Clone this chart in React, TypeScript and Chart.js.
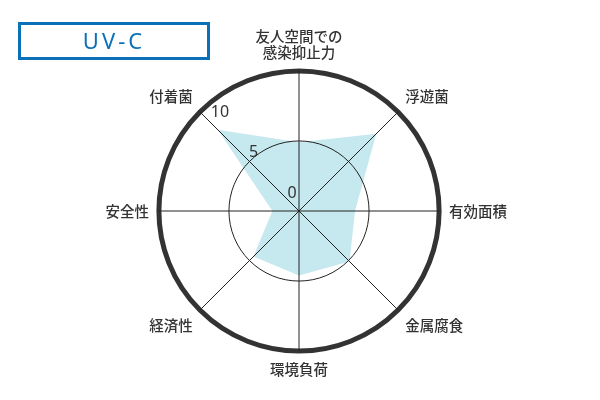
import React, { useEffect, useRef } from "react";
import { Chart, registerables } from "chart.js";

Chart.register(...registerables);

const title = "UV-C";
const axisLabels: (string | string[])[] = [
  ["友人空間での", "感染抑止力"],
  "浮遊菌",
  "有効面積",
  "金属腐食",
  "環境負荷",
  "経済性",
  "安全性",
  "付着菌",
];
const uvcValues = [4.9, 7.8, 4.0, 5.1, 4.6, 4.6, 1.9, 8.2];
const tickValues = [0, 5, 10];
const tickLabels = ["0", "5", "10"];

const tickPlugin = {
  id: "diagTicks",
  afterDraw(chart: any, _args: any, opts: any) {
    const scale = chart.scales.r;
    const ctx = chart.ctx;
    ctx.save();
    ctx.font = opts.font;
    ctx.fillStyle = opts.color;
    ctx.textAlign = "center";
    ctx.textBaseline = "middle";
    tickValues.forEach((v, i) => {
      const p = scale.getPointPositionForValue(opts.axisIndex, v);
      const off = opts.offsets[i];
      ctx.fillText(tickLabels[i], p.x + off[0], p.y + off[1]);
    });
    ctx.restore();
  },
};

export default function App() {
  const ref = useRef<HTMLCanvasElement>(null);
  useEffect(() => {
    if (!ref.current) return;
    const chart = new Chart(ref.current, {
      type: "radar",
      data: {
        labels: axisLabels,
        datasets: [
          {
            data: uvcValues,
            backgroundColor: "#c6e8ef",
            borderWidth: 0,
            borderColor: "rgba(0,0,0,0)",
            pointRadius: 0,
            fill: true,
          },
        ],
      },
      options: {
        responsive: false,
        animation: false,
        layout: { padding: { top: 22, bottom: 14, left: 97, right: 83 } },
        plugins: {
          legend: { display: false },
          tooltip: { enabled: false },
          diagTicks: {
            axisIndex: 7,
            font: "16px 'Noto Sans', sans-serif",
            color: "#333333",
            offsets: [
              [-7, -18],
              [4, -9],
              [20, 1],
            ],
          },
        } as any,
        scales: {
          r: {
            min: 0,
            max: 10,
            afterBuildTicks: (s: any) => {
              s.ticks = tickValues.map((v) => ({ value: v }));
            },
            ticks: { display: false },
            grid: {
              circular: true,
              z: 1,
              color: (c: any) => (c.tick && c.tick.value === 10 ? "#333333" : "#222222"),
              lineWidth: (c: any) => (c.tick && c.tick.value === 10 ? 5 : 1),
            },
            angleLines: { color: "#222222", lineWidth: 1 },
            pointLabels: {
              padding: 10,
              color: "#333333",
              font: { family: "'Noto Sans CJK JP'", size: 14.5, weight: 500, lineHeight: 1.1 },
            },
          },
        },
      },
      plugins: [tickPlugin],
    });
    return () => chart.destroy();
  }, []);
  return (
    <div style={{ position: "fixed", left: 0, top: 0, width: 600, height: 400, background: "#fff" }}>
      <canvas ref={ref} width={600} height={400} style={{ position: "absolute", left: 0, top: 0 }} />
      <div
        style={{
          position: "absolute",
          left: 18,
          top: 22,
          width: 186,
          height: 32,
          border: "3px solid #0a70b8",
          color: "#0a70b8",
          fontFamily: "'Noto Sans', sans-serif",
          fontSize: 22,
          letterSpacing: 3,
          lineHeight: "31px",
          textAlign: "center",
        }}
      >
        {title}
      </div>
    </div>
  );
}
